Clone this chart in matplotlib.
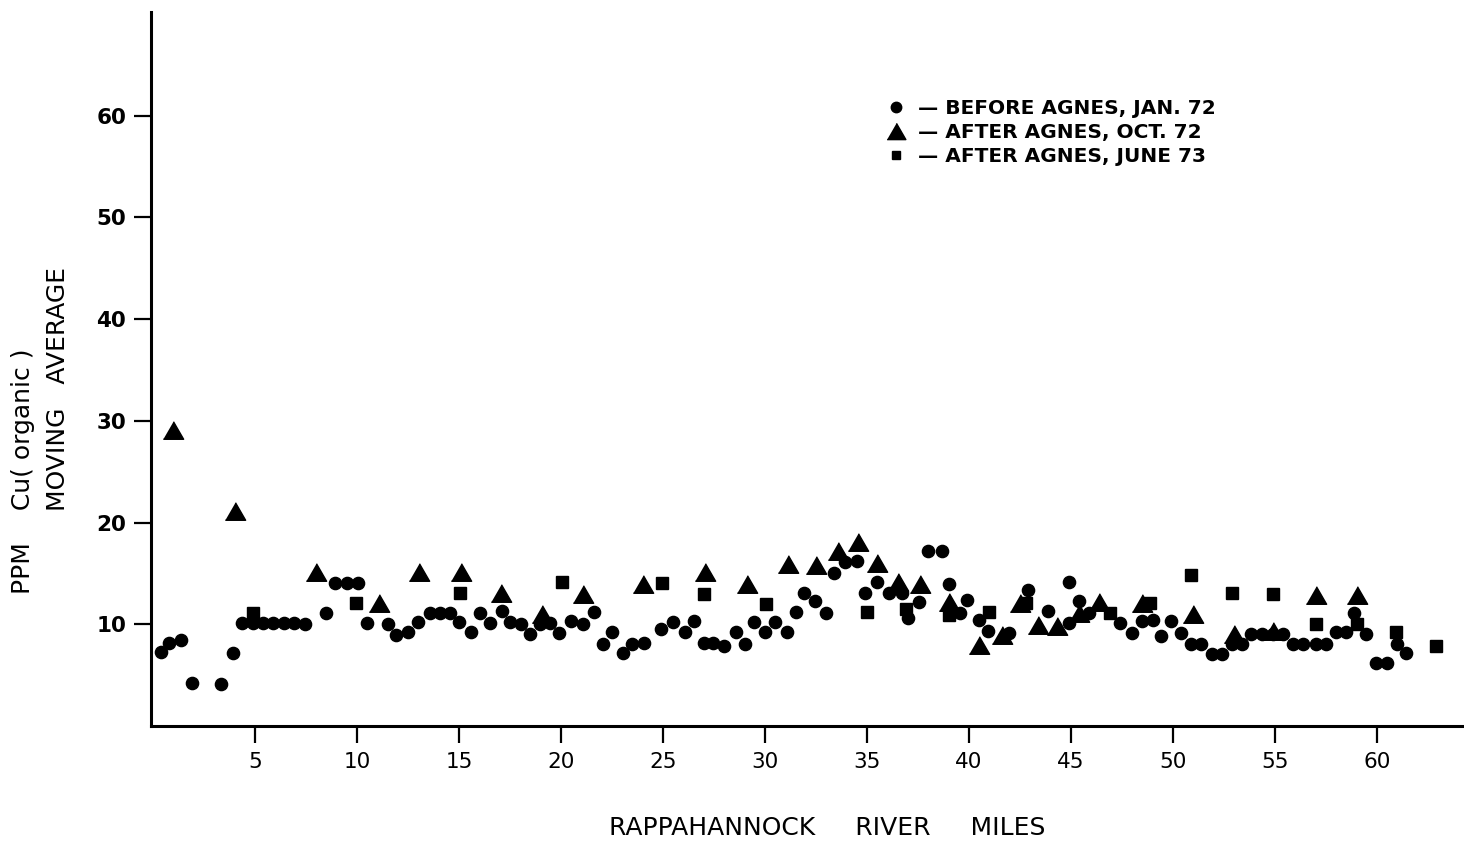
import matplotlib
matplotlib.use("Agg")
import matplotlib.pyplot as plt
from matplotlib.lines import Line2D
from matplotlib import font_manager

# ---------------- data ----------------
jan72_miles = [0.38, 0.8, 1.36, 1.93, 3.35, 3.94, 4.35, 4.88, 5.4, 5.9, 6.42, 6.9, 7.45,
               8.5, 8.92, 9.5, 10.07, 10.5, 11.5, 11.9, 12.5, 13.0, 13.58, 14.07, 14.56,
               15.0, 15.6, 16.03, 16.5, 17.1, 17.5, 18.04, 18.5, 18.97, 19.46, 19.9, 20.5,
               21.1, 21.6, 22.07, 22.5, 23.06, 23.5, 24.07, 24.9, 25.5, 26.1, 26.5, 27.0,
               27.47, 28.0, 28.56, 29.0, 29.46, 30.0, 30.5, 31.1, 31.5, 31.9, 32.45, 33.0,
               33.4, 33.9, 34.5, 34.9, 35.5, 36.1, 36.7, 37.0, 37.56, 38.0, 38.7, 39.0,
               39.56, 39.9, 40.5, 40.95, 41.97, 42.9, 43.9, 44.9, 44.9, 45.4, 45.9, 47.4,
               48.0, 48.5, 49.0, 49.4, 49.9, 50.4, 50.9, 51.4, 51.9, 52.4, 52.9, 53.4,
               53.85, 54.35, 54.9, 55.4, 55.9, 56.4, 57.0, 57.5, 58.0, 58.5, 58.9, 59.45,
               59.95, 60.5, 61.0, 61.45]
jan72_cu = [7.3, 8.2, 8.5, 4.2, 4.1, 7.2, 10.1, 10.1, 10.1, 10.1, 10.1, 10.1, 10.0,
            11.1, 14.1, 14.1, 14.1, 10.1, 10.0, 8.95, 9.2, 10.2, 11.1, 11.1, 11.1,
            10.2, 9.2, 11.1, 10.1, 11.3, 10.25, 10.0, 9.05, 10.0, 10.15, 9.1, 10.35,
            10.0, 11.2, 8.06, 9.27, 7.14, 8.06, 8.2, 9.5, 10.25, 9.2, 10.35, 8.2,
            8.2, 7.87, 9.27, 8.06, 10.25, 9.2, 10.25, 9.27, 11.2, 13.1, 12.3, 11.1,
            15.0, 16.1, 16.2, 13.1, 14.2, 13.1, 13.1, 10.6, 12.2, 17.2, 17.2, 14.0,
            11.1, 12.4, 10.4, 9.3, 9.1, 13.4, 11.3, 14.2, 10.1, 12.3, 11.1, 10.1,
            9.1, 10.3, 10.4, 8.85, 10.3, 9.1, 8.1, 8.1, 7.1, 7.1, 8.1, 8.1,
            9.0, 9.0, 9.0, 9.0, 8.06, 8.06, 8.06, 8.06, 9.2, 9.27, 11.1, 9.05,
            6.16, 6.16, 8.1, 7.14]

oct72_miles = [0.99, 4.02, 7.99, 11.1, 13.05, 15.1, 17.06, 19.05, 21.1, 24.0, 27.06,
               29.1, 31.15, 32.5, 33.6, 34.57, 35.5, 36.5, 37.6, 39.0, 40.5, 41.6, 42.5,
               43.4, 44.3, 45.4, 46.4, 48.5, 50.96, 53.0, 54.9, 57.0, 59.0]
oct72_cu = [29.1, 21.1, 15.1, 12.1, 15.1, 15.1, 13.1, 11.0, 13.0, 14.0, 15.1,
            14.0, 15.9, 15.8, 17.2, 18.1, 16.05, 14.2, 14.0, 12.2, 8.0, 8.95, 12.1,
            9.9, 9.8, 11.1, 12.2, 12.1, 11.0, 9.0, 9.3, 12.9, 12.9]

jun73_miles = [4.92, 9.95, 15.05, 20.03, 24.97, 27.0, 30.04, 35.0, 36.9, 39.0, 41.0,
               42.8, 46.9, 48.9, 50.9, 52.9, 54.9, 57.0, 59.0, 60.96, 62.9]
jun73_cu = [11.1, 12.05, 13.1, 14.2, 14.1, 13.0, 12.0, 11.2, 11.55, 10.9, 11.2,
            12.1, 11.1, 12.05, 14.8, 13.1, 13.0, 10.0, 10.0, 9.27, 7.9]

x_ticks = [5, 10, 15, 20, 25, 30, 35, 40, 45, 50, 55, 60]
y_ticks = [10, 20, 30, 40, 50, 60]

labels = ["— BEFORE AGNES, JAN. 72",
          "— AFTER AGNES, OCT. 72",
          "— AFTER AGNES, JUNE 73"]

# ---------------- style ----------------
available = {f.name for f in font_manager.fontManager.ttflist}
narrow = "Liberation Sans Narrow" if "Liberation Sans Narrow" in available else "DejaVu Sans"
plt.rcParams['font.family'] = ['DejaVu Sans']

tri = [(-1, -0.866), (1, -0.866), (0, 0.866)]

fig = plt.figure(figsize=(14.64, 8.42), dpi=100)
ax = fig.add_axes([151/1464, 116/842, (1464-151)/1464, (726-12)/842])

ax.plot(jan72_miles, jan72_cu, ls='none', marker='o', ms=8.8, color='black', mec='black')
ax.plot(oct72_miles, oct72_cu, ls='none', marker=tri, ms=14.6, color='black', mec='black')
ax.plot(jun73_miles, jun73_cu, ls='none', marker='s', ms=8.6, color='black', mec='black')

ax.set_xlim(-0.1, 64.27)
ax.set_ylim(0, 70.2)
for s in ['top', 'right']:
    ax.spines[s].set_visible(False)
for s in ['left', 'bottom']:
    ax.spines[s].set_linewidth(2.2)

ax.set_xticks(x_ticks)
ax.set_yticks(y_ticks)
ax.tick_params(axis='both', direction='out', length=12, width=1.6, color='black')
ax.tick_params(axis='x', pad=7)
ax.tick_params(axis='y', pad=6)
ax.set_xticklabels([str(v) for v in x_ticks], fontsize=15.5, family=narrow)
ax.set_yticklabels([str(v) for v in y_ticks], fontsize=15.5, fontweight='bold')

fig.text(827/1464, 1 - 828/842, "RAPPAHANNOCK     RIVER     MILES", ha='center', va='center',
         fontsize=18, family=narrow)
fig.text(23/1464, 1 - 594/842, "PPM    Cu( organic )", rotation=90, ha='center', va='bottom',
         fontsize=18)
fig.text(58/1464, 1 - 511/842, "MOVING   AVERAGE", rotation=90, ha='center', va='bottom',
         fontsize=18)

handles = [Line2D([], [], ls='none', marker='o', ms=7.5, color='black'),
           Line2D([], [], ls='none', marker=tri, ms=13.5, color='black'),
           Line2D([], [], ls='none', marker='s', ms=6.0, color='black')]
fig.legend(handles, labels, loc='upper left', bbox_to_anchor=(884/1464, 1 - 99/842),
           frameon=False, handlelength=1.2, handletextpad=0.5, labelspacing=0.26,
           borderaxespad=0, borderpad=0,
           prop={'size': 14.5, 'weight': 'bold'})

fig.savefig("out.png", dpi=100)
